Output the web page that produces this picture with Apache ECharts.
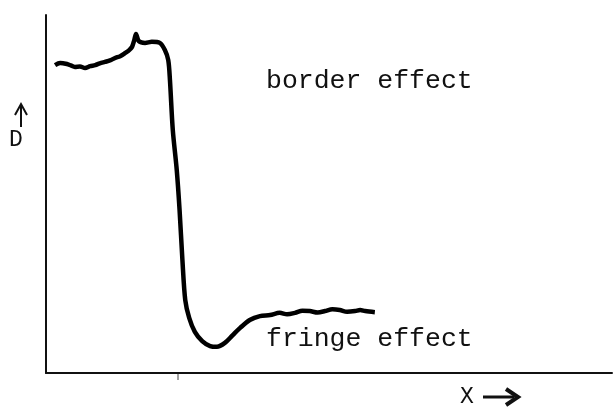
<!DOCTYPE html>
<html>
<head>
<meta charset="utf-8">
<script src="https://cdn.jsdelivr.net/npm/echarts@6/dist/echarts.min.js"></script>
<style>
  html, body { margin: 0; padding: 0; background: #fff; }
  #chart { width: 614px; height: 411px; }
</style>
</head>
<body>
<div id="chart"></div>
<script>
// position along the plate (arbitrary units, 0-100)
const xVals = [1.6, 2.5, 3.7, 4.4, 5.1, 6.0, 6.9, 7.8, 8.7, 9.5, 10.4, 11.3, 12.2, 13.1, 14.0, 14.7,
  15.2, 15.6, 15.9, 16.4, 17.5, 18.7, 20.1, 21.0, 21.6, 21.9, 22.4, 23.1, 23.6, 24.1, 24.6,
  25.3, 26.3, 27.6, 29.0, 30.2, 31.6, 33.0, 34.3, 36.0, 37.8, 39.6, 41.3, 42.6, 44.0, 45.3,
  46.6, 48.0, 49.3, 50.6, 51.9, 53.2, 54.6, 55.5, 56.4, 58.1];
// density D
const dVals = [86.0, 86.6, 86.3, 85.9, 85.5, 85.6, 85.2, 85.7, 86.0, 86.5, 86.9, 87.3, 88.0, 88.5, 89.4, 90.2,
  91.1, 93.0, 94.7, 92.7, 92.2, 92.5, 92.2, 90.2, 87.4, 81.8, 67.9, 56.7, 45.5, 31.6, 20.4,
  15.4, 11.5, 8.9, 7.5, 7.3, 8.4, 10.6, 12.6, 14.8, 15.9, 16.2, 16.8, 16.4, 16.8, 17.4,
  17.3, 16.9, 17.3, 17.8, 17.6, 17.1, 17.3, 17.6, 17.3, 17.0];

const labelBorder = 'border effect';
const labelFringe = 'fringe effect';
const axisY = 'D';
const axisX = 'X';

const chart = echarts.init(document.getElementById('chart'));
const mono = '"Liberation Mono", "DejaVu Sans Mono", monospace';

const option = {
  animation: false,
  backgroundColor: '#fff',
  grid: { left: 46, right: 2, top: 15, bottom: 38 },
  xAxis: {
    type: 'value', min: 0, max: 100,
    axisLine: { show: true, onZero: false, lineStyle: { color: '#111', width: 2 } },
    axisTick: { show: false }, axisLabel: { show: false }, splitLine: { show: false }
  },
  yAxis: {
    type: 'value', min: 0, max: 100,
    axisLine: { show: true, onZero: false, lineStyle: { color: '#111', width: 2 } },
    axisTick: { show: false }, axisLabel: { show: false }, splitLine: { show: false }
  },
  series: [{
    type: 'line',
    data: xVals.map((x, i) => [x, dVals[i]]),
    showSymbol: false,
    smooth: 0.3,
    lineStyle: { color: '#000', width: 4.5 }
  }],
  graphic: [
    { type: 'text', left: 266, top: 67, style: { text: labelBorder, font: '26.5px ' + mono, fill: '#111' } },
    { type: 'text', left: 266, top: 325, style: { text: labelFringe, font: '26.5px ' + mono, fill: '#111' } },
    { type: 'text', left: 9, top: 128, style: { text: axisY, font: '23px ' + mono, fill: '#111' } },
    { type: 'line', shape: { x1: 21, y1: 127, x2: 21, y2: 106 }, style: { stroke: '#111', lineWidth: 2 } },
    { type: 'polyline', shape: { points: [[15, 115], [21, 104], [27, 115]] }, style: { stroke: '#111', lineWidth: 2, fill: null } },
    { type: 'text', left: 460, top: 385, style: { text: axisX, font: '23px ' + mono, fill: '#111' } },
    { type: 'line', shape: { x1: 483, y1: 397, x2: 514, y2: 397 }, style: { stroke: '#111', lineWidth: 3 } },
    { type: 'polyline', shape: { points: [[506, 389], [518, 397], [506, 405]] }, style: { stroke: '#111', lineWidth: 4, fill: null } },
    { type: 'line', shape: { x1: 178, y1: 373, x2: 178, y2: 380 }, style: { stroke: '#444', lineWidth: 1 } }
  ]
};
chart.setOption(option);
</script>
</body>
</html>
